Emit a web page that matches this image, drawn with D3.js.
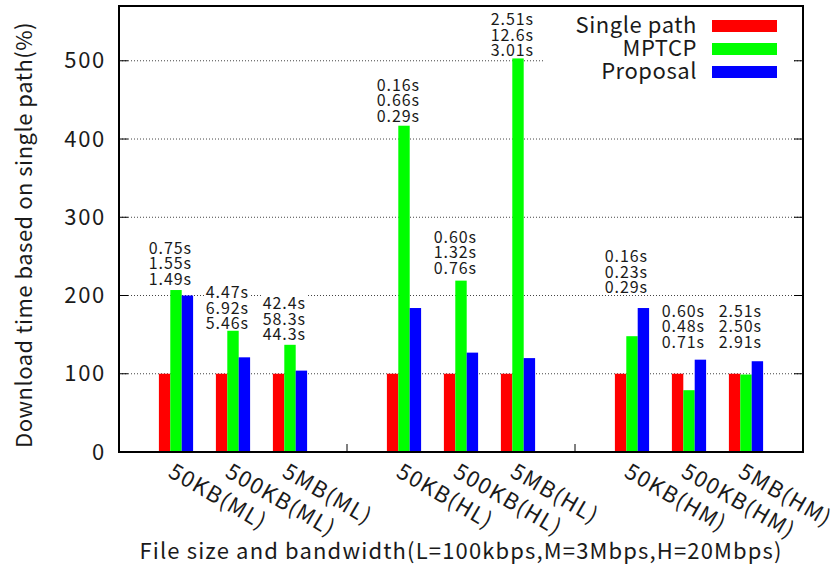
<!DOCTYPE html>
<html lang="en">
<head>
<meta charset="UTF-8">
<title>Download time based on single path</title>
<style>
  body { margin: 0; background: #fff; }
  svg text { font-family: "Noto Sans CJK JP", "Noto Sans", sans-serif; fill: #1a1a1a; }
</style>
</head>
<body>
<svg id="chart" width="840" height="568"></svg>
<script src="https://d3js.org/d3.v7.min.js"></script>
<script>
// data
const categories = ["50KB(ML)", "500KB(ML)", "5MB(ML)", "50KB(HL)", "500KB(HL)", "5MB(HL)", "50KB(HM)", "500KB(HM)", "5MB(HM)"];
const singlePath = [100, 100, 100, 100, 100, 100, 100, 100, 100];
const mptcp = [207, 155, 137, 417, 219, 503, 148, 79, 99];
const proposal = [200, 121, 104, 184, 127, 120, 184, 118, 116];
const timeLabels = [
    ["0.75s", "1.55s", "1.49s"],
    ["4.47s", "6.92s", "5.46s"],
    ["42.4s", "58.3s", "44.3s"],
    ["0.16s", "0.66s", "0.29s"],
    ["0.60s", "1.32s", "0.76s"],
    ["2.51s", "12.6s", "3.01s"],
    ["0.16s", "0.23s", "0.29s"],
    ["0.60s", "0.48s", "0.71s"],
    ["2.51s", "2.50s", "2.91s"]
];
// value where the last line of each label sits
const labelBase = [214, 157, 143, 422, 228, 506, 203, 133, 133];
const yTicks = [0, 100, 200, 300, 400, 500];
const seriesNames = ["Single path", "MPTCP", "Proposal"];
const seriesColors = ["#ff0000", "#00ff00", "#0000ff"];
const series = [singlePath, mptcp, proposal];

const svg = d3.select("#chart");
const pl = 119, pr = 803, pt = 6, pb = 452;

// groups of three with an empty slot between them
const slot = i => i + Math.floor(i / 3);
const x = d3.scaleLinear().domain([-1, 11]).range([pl, pr]);
const y = d3.scaleLinear().domain([0, 570]).range([pb, pt]);
const bw = x(0.2) - x(0);

// grid
svg.append("g").selectAll("line")
    .data(yTicks.filter(d => d > 0))
    .enter().append("line")
    .attr("x1", pl).attr("x2", pr)
    .attr("y1", d => y(d)).attr("y2", d => y(d))
    .attr("stroke", "#444").attr("stroke-width", 1)
    .attr("stroke-dasharray", "1,2");

// bars
series.forEach((vals, s) => {
    svg.append("g").selectAll("rect")
        .data(vals)
        .enter().append("rect")
        .attr("x", (d, i) => x(slot(i)) + (s - 1.5) * bw)
        .attr("y", d => y(d))
        .attr("width", bw)
        .attr("height", d => y(0) - y(d))
        .attr("fill", seriesColors[s]);
});

// time labels, white boxes behind them
const lh = 15.5;
timeLabels.forEach((lines, i) => {
    const g = svg.append("g");
    const cx = x(slot(i)) - bw / 2;
    const yb = y(labelBase[i]);
    const t = g.append("text")
        .attr("text-anchor", "middle")
        .attr("font-size", 16)
        .attr("letter-spacing", 0.9);
    lines.forEach((s, k) => {
        t.append("tspan").attr("x", cx).attr("y", yb - (2 - k) * lh).text(s);
    });
    const bb = t.node().getBBox();
    g.insert("rect", "text")
        .attr("x", bb.x - 1).attr("y", bb.y + 2)
        .attr("width", bb.width + 2).attr("height", yb + 1 - bb.y - 2)
        .attr("fill", "#fff");
});

// legend (opaque box)
svg.append("rect").attr("x", 545).attr("y", 8).attr("width", 247).attr("height", 80).attr("fill", "#fff");
const leg = svg.append("g");
seriesNames.forEach((n, s) => {
    const cy = 26 + s * 23;
    leg.append("text").attr("x", 697).attr("y", cy + 7)
        .attr("text-anchor", "end").attr("font-size", 22)
        .attr("letter-spacing", 0.55).text(n);
    leg.append("rect").attr("x", 712).attr("y", cy - 6)
        .attr("width", 65).attr("height", 12).attr("fill", seriesColors[s]);
});

// axes and frame
const yAxis = d3.axisLeft(y).tickValues(yTicks).tickSize(0).tickPadding(13);
const ya = svg.append("g").attr("transform", `translate(${pl},0)`).call(yAxis);
ya.select(".domain").remove();
ya.selectAll("text").attr("font-size", 22).attr("font-family", null)
    .attr("letter-spacing", 1.7).attr("fill", "#1a1a1a");

svg.append("g").selectAll("line")
    .data(yTicks.filter(d => d > 0))
    .enter().append("line")
    .attr("x1", pl).attr("x2", pl + 9)
    .attr("y1", d => y(d)).attr("y2", d => y(d))
    .attr("stroke", "#000");
svg.append("g").selectAll("line")
    .data(yTicks.filter(d => d > 0))
    .enter().append("line")
    .attr("x1", pr - 9).attr("x2", pr)
    .attr("y1", d => y(d)).attr("y2", d => y(d))
    .attr("stroke", "#000");
svg.append("g").selectAll("line")
    .data([3, 7])
    .enter().append("line")
    .attr("x1", d => x(d)).attr("x2", d => x(d))
    .attr("y1", pb).attr("y2", pb - 8)
    .attr("stroke", "#000");

svg.append("rect")
    .attr("x", pl).attr("y", pt)
    .attr("width", pr - pl).attr("height", pb - pt)
    .attr("fill", "none").attr("stroke", "#000").attr("stroke-width", 2);

// category labels, rotated
svg.append("g").selectAll("text")
    .data(categories)
    .enter().append("text")
    .attr("transform", (d, i) => `translate(${x(slot(i)) - 9},476) rotate(30)`)
    .attr("font-size", 22)
    .attr("letter-spacing", 1.4)
    .text(d => d);

// axis titles
svg.append("text")
    .attr("transform", "translate(32,235) rotate(-90)")
    .attr("text-anchor", "middle").attr("font-size", 22)
    .attr("letter-spacing", 0.5)
    .text("Download time based on single path(%)");
svg.append("text")
    .attr("x", 461).attr("y", 559)
    .attr("text-anchor", "middle").attr("font-size", 22)
    .attr("letter-spacing", 1.15)
    .text("File size and bandwidth(L=100kbps,M=3Mbps,H=20Mbps)");
</script>
</body>
</html>
